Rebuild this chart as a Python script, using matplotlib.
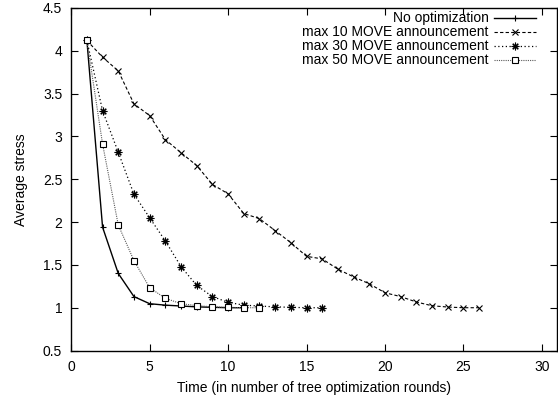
import numpy as np
import matplotlib
matplotlib.use("Agg")
import matplotlib.pyplot as plt

plt.rcParams['font.family'] = ['Liberation Sans', 'DejaVu Sans']
plt.rcParams['font.size'] = 10

# Dados
x_noopt = [1, 2, 3, 4, 5, 6, 7, 8, 9, 10, 11]
y_noopt = [4.12, 1.94, 1.40, 1.13, 1.047, 1.03, 1.02, 1.01, 1.005, 1.0, 1.0]

x_m10 = list(range(1, 27))
y_m10 = [4.12, 3.925, 3.765, 3.38, 3.243, 2.963, 2.81, 2.66, 2.44, 2.33, 2.10, 2.04,
         1.90, 1.76, 1.60, 1.57, 1.45, 1.36, 1.28, 1.175, 1.13, 1.067, 1.023, 1.008,
         1.0, 1.0]

x_m30 = list(range(1, 17))
y_m30 = [4.12, 3.30, 2.815, 2.325, 2.05, 1.78, 1.48, 1.26, 1.13, 1.063, 1.03, 1.02,
         1.01, 1.005, 1.0, 1.0]

x_m50 = list(range(1, 13))
y_m50 = [4.12, 2.91, 1.966, 1.55, 1.234, 1.11, 1.047, 1.025, 1.01, 1.005, 1.0, 1.0]

labels = ["No optimization", "max 10 MOVE announcement",
          "max 30 MOVE announcement", "max 50 MOVE announcement"]

fig = plt.figure(figsize=(5.58, 3.97), dpi=100)
ax = fig.add_axes([0.1276, 0.117, 0.8715, 0.863])

ax.plot(x_noopt, y_noopt, color='black', lw=1.0, marker='+', ms=5, mew=0.8,
        label=labels[0])
ax.plot(x_m10, y_m10, color='black', lw=0.8, ls=(0, (3, 2)), marker='x', ms=5,
        mew=0.8, label=labels[1])
ax.plot(x_m30, y_m30, color='black', lw=0.9, ls=(0, (1, 2)), marker=(8, 2, 0),
        ms=5.5, mew=0.8, label=labels[2])
ax.plot(x_m50, y_m50, color='0.35', lw=0.8, ls=(0, (1, 1)), marker='s', ms=4.5,
        mew=0.8, mec='black', mfc='white', label=labels[3])

ax.set_xlim(0, 31)
ax.set_ylim(0.5, 4.5)
ax.set_xticks(np.arange(0, 31, 5))
ax.set_yticks(np.arange(0.5, 4.51, 0.5))
ax.set_yticklabels(["0.5", "1", "1.5", "2", "2.5", "3", "3.5", "4", "4.5"])
ax.tick_params(direction='in', top=True, right=True, length=5, width=0.8, pad=6.5)
for s in ax.spines.values():
    s.set_linewidth(1.0)

ax.set_xlabel("Time (in number of tree optimization rounds)")
ax.set_ylabel("Average stress")
ax.xaxis.set_label_coords(0.5, -0.089)
ax.yaxis.set_label_coords(-0.089, 0.5)

ax.legend(loc='upper right', bbox_to_anchor=(0.955, 0.99), frameon=False,
          markerfirst=False, handlelength=3.0, labelspacing=0.0,
          borderaxespad=0, borderpad=0, handletextpad=0.4)

fig.savefig("out.png", dpi=100)
